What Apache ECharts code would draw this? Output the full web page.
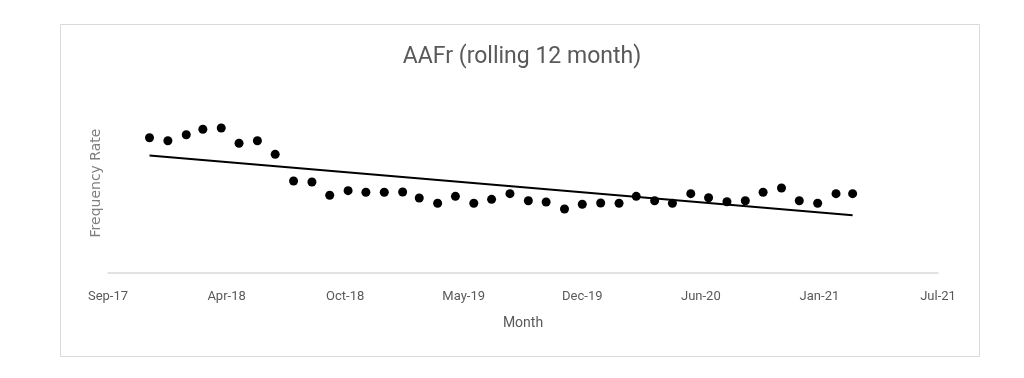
<!DOCTYPE html>
<html>
<head>
<meta charset="utf-8">
<script src="https://cdn.jsdelivr.net/npm/echarts@6/dist/echarts.min.js"></script>
<style>
  html, body { margin: 0; padding: 0; background: #fff; }
  #chart { width: 1024px; height: 378px; }
</style>
</head>
<body>
<div id="chart"></div>
<script>
// months of the rolling 12 month AAFr
const months = [
  "2017-12", "2018-01", "2018-02", "2018-03", "2018-04", "2018-05", "2018-06", "2018-07",
  "2018-08", "2018-09", "2018-10", "2018-11", "2018-12", "2019-01", "2019-02", "2019-03",
  "2019-04", "2019-05", "2019-06", "2019-07", "2019-08", "2019-09", "2019-10", "2019-11",
  "2019-12", "2020-01", "2020-02", "2020-03", "2020-04", "2020-05", "2020-06", "2020-07",
  "2020-08", "2020-09", "2020-10", "2020-11", "2020-12", "2021-01", "2021-02", "2021-03"
];
const rates = [
  9.02, 8.82, 9.22, 9.58, 9.67, 8.65, 8.82, 7.91, 6.13, 6.07,
  5.18, 5.49, 5.38, 5.38, 5.40, 5.00, 4.65, 5.11, 4.65, 4.91,
  5.29, 4.82, 4.73, 4.27, 4.58, 4.67, 4.65, 5.11, 4.82, 4.65,
  5.29, 5.02, 4.75, 4.82, 5.38, 5.67, 4.82, 4.65, 5.29, 5.29
];
// excel style date axis: ticks every 200 days from 43000
const tickLabels = ["Sep-17", "Apr-18", "Oct-18", "May-19", "Dec-19", "Jun-20", "Jan-21", "Jul-21"];
const xMin = 43000, xStep = 200;

function toSerial(ym) {
  const p = ym.split("-");
  return (Date.UTC(+p[0], +p[1] - 1, 1) - Date.UTC(1899, 11, 30)) / 86400000;
}

const points = months.map((m, i) => [toSerial(m), rates[i]]);

// linear trendline (least squares)
const n = points.length;
let sx = 0, sy = 0, sxx = 0, sxy = 0;
points.forEach(([x, y]) => { sx += x; sy += y; sxx += x * x; sxy += x * y; });
const slope = (n * sxy - sx * sy) / (n * sxx - sx * sx);
const icpt = (sy - slope * sx) / n;
const x0 = points[0][0], x1 = points[n - 1][0];
const trend = [[x0, icpt + slope * x0], [x1, icpt + slope * x1]];

const myChart = echarts.init(document.getElementById("chart"));
const option = {
  animation: false,
  title: {
    text: "AAFr (rolling 12 month)",
    top: 41,
    left: 517,
    textAlign: "center",
    textStyle: {
      color: "#595959",
      fontWeight: "normal",
      fontSize: 23,
      fontFamily: "Roboto",
    },
  },
  graphic: [{
    type: "rect",
    shape: { x: 60.5, y: 24.5, width: 919, height: 332 },
    style: { fill: "none", stroke: "#d9d9d9", lineWidth: 1 },
    silent: true,
  }],
  grid: {
    left: 108,
    right: 86,
    top: 93,
    bottom: 105,
  },
  xAxis: {
    type: "value",
    min: xMin,
    max: xMin + xStep * (tickLabels.length - 1),
    interval: xStep,
    name: "Month",
    nameLocation: "middle",
    nameGap: 43,
    nameTextStyle: {
      color: "#595959",
      fontSize: 14,
      fontFamily: "Roboto",
    },
    axisLine: { show: true, onZero: false, lineStyle: { color: "#d9d9d9", width: 1.5 } },
    axisTick: { show: false },
    splitLine: { show: false },
    axisLabel: {
      color: "#595959",
      fontSize: 13,
      fontFamily: "Roboto",
      margin: 17,
      formatter: (v) => tickLabels[Math.round((v - xMin) / xStep)] || "",
    },
  },
  yAxis: {
    type: "value",
    min: 0,
    max: 12,
    name: "Frequency Rate",
    nameLocation: "middle",
    nameGap: 5,
    nameTextStyle: {
      color: "#7f7f7f",
      fontSize: 14,
      fontFamily: "DejaVu Sans",
    },
    axisLine: { show: false },
    axisTick: { show: false },
    axisLabel: { show: false },
    splitLine: { show: false },
  },
  series: [
    {
      type: "scatter",
      data: points,
      symbol: "circle",
      symbolSize: 9,
      itemStyle: { color: "#000", opacity: 1 },
    },
    {
      type: "line",
      data: trend,
      symbol: "none",
      lineStyle: { color: "#000", width: 2 },
    },
  ],
};
myChart.setOption(option);
window.addEventListener("resize", () => {
  myChart.resize();
});
</script>
</body>
</html>
